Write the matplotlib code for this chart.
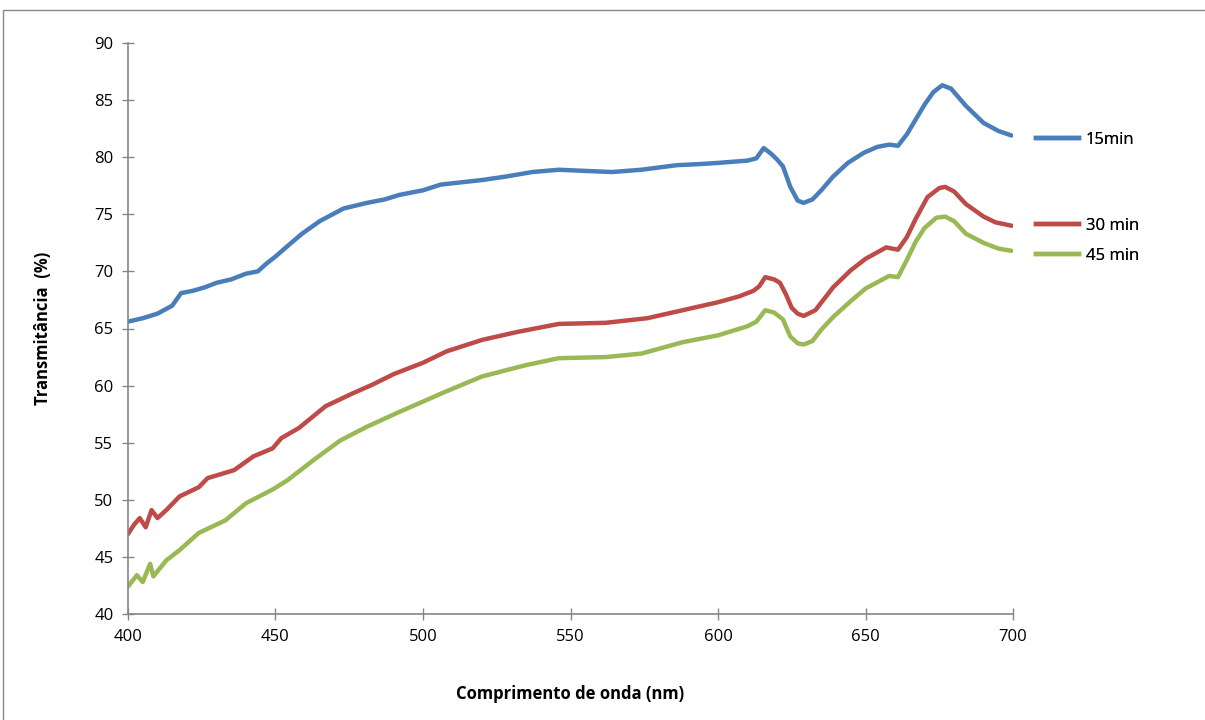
import matplotlib.pyplot as plt
from matplotlib.lines import Line2D
from matplotlib.patches import Rectangle

# wavelength (nm) / transmittance (%)
wl_15 = [400, 405, 410, 415, 418, 422, 426, 430, 435, 440, 444, 447, 450, 454, 459,
         465, 473, 481, 487, 492, 500, 506, 513, 520, 528, 537, 546, 555, 564, 574,
         586, 594, 600, 605, 610, 613, 615.5, 618, 620, 622, 624.5, 627, 629, 632,
         635, 639, 644, 649.5, 654, 658, 661, 664, 667, 670, 673, 676, 679, 684, 690,
         695, 699.5]
t_15 = [65.6, 65.9, 66.3, 67.0, 68.1, 68.3, 68.6, 69.0, 69.3, 69.8, 70.0, 70.7, 71.3,
        72.2, 73.3, 74.4, 75.5, 76.0, 76.3, 76.7, 77.1, 77.6, 77.8, 78.0, 78.3, 78.7,
        78.9, 78.8, 78.7, 78.9, 79.3, 79.4, 79.5, 79.6, 79.7, 79.9, 80.8, 80.3, 79.8,
        79.2, 77.4, 76.2, 76.0, 76.3, 77.1, 78.3, 79.5, 80.4, 80.9, 81.1, 81.0, 82.0,
        83.3, 84.6, 85.7, 86.3, 86.0, 84.5, 83.0, 82.3, 81.9]

wl_30 = [400, 402, 404, 406, 408, 410, 413, 417.5, 424, 427, 436, 442.5, 449, 452, 458,
         467, 476, 483, 490, 500, 508, 520, 532, 546, 562, 576, 588, 600, 607, 612,
         614, 616, 619, 621, 623, 625, 627, 629, 633, 639, 645, 650, 657, 661, 664,
         667, 671, 675, 677, 680, 684, 690, 694, 699.5]
t_30 = [47.0, 47.8, 48.4, 47.6, 49.1, 48.4, 49.1, 50.3, 51.1, 51.9, 52.6, 53.8, 54.5,
        55.4, 56.3, 58.2, 59.3, 60.1, 61.0, 62.0, 63.0, 64.0, 64.7, 65.4, 65.5, 65.9,
        66.6, 67.3, 67.8, 68.3, 68.7, 69.5, 69.3, 69.0, 68.0, 66.8, 66.3, 66.1, 66.6,
        68.6, 70.1, 71.1, 72.1, 71.9, 73.0, 74.6, 76.5, 77.3, 77.4, 77.0, 75.9, 74.8,
        74.3, 74.0]

wl_45 = [400, 403, 405, 407.5, 408.6, 413, 417.5, 424, 433, 440, 449, 454, 463, 472,
         481, 492, 500, 507, 520, 535, 546, 562, 574, 588, 600, 610, 613, 616, 619,
         622, 624.5, 627, 629, 632, 635, 639, 645, 650, 658, 661, 664, 667, 670, 674,
         677, 680, 684, 690, 695, 699.5]
t_45 = [42.4, 43.4, 42.8, 44.4, 43.3, 44.7, 45.6, 47.1, 48.2, 49.7, 50.9, 51.7, 53.5,
        55.2, 56.4, 57.7, 58.6, 59.4, 60.8, 61.8, 62.4, 62.5, 62.8, 63.8, 64.4, 65.2,
        65.6, 66.6, 66.4, 65.8, 64.3, 63.7, 63.6, 63.9, 64.9, 66.0, 67.4, 68.5, 69.6,
        69.5, 71.0, 72.6, 73.8, 74.7, 74.8, 74.4, 73.3, 72.5, 72.0, 71.8]

labels = ["15min", "30 min", "45 min"]
colors = ["#4A7EBB", "#BE4B48", "#98B954"]

plt.rcParams['font.family'] = ['Open Sans', 'DejaVu Sans']

fig = plt.figure(figsize=(12.05, 7.2), dpi=100)
fig.patches.append(Rectangle((0.0025, -0.01), 1.2, 0.9965, transform=fig.transFigure,
                             fill=False, edgecolor="#868686", linewidth=1))
ax = fig.add_axes([0.1062, 0.1472, 0.7345, 0.7931])

series = [(wl_15, t_15), (wl_30, t_30), (wl_45, t_45)]
for (x, y), c in zip(series, colors):
    ax.plot(x, y, color=c, linewidth=3.2, solid_capstyle='round')

ax.set_xlim(400, 700)
ax.set_ylim(40, 90)
ax.set_xticks(range(400, 701, 50))
ax.set_yticks(range(40, 91, 5))
for s in ['top', 'right']:
    ax.spines[s].set_visible(False)
for s in ['left', 'bottom']:
    ax.spines[s].set_color("#868686")
    ax.spines[s].set_linewidth(1.2)
ax.tick_params(direction='inout', length=9, width=1, color="#868686",
               labelsize=12, labelcolor="#000000", pad=6)

ax.set_xlabel("Comprimento de onda (nm)", fontsize=12, fontweight='bold', labelpad=29)
ax.set_ylabel("Transmitância  (%)", fontsize=12, fontweight='bold', labelpad=30)

# legend entries sit at separate heights, as in the reference
legend_y = [0.8056, 0.6861, 0.6444]
for lab, c, ly in zip(labels, colors, legend_y):
    h = Line2D([], [], color=c, linewidth=3.2)
    leg = fig.legend([h], [lab], loc='center left', bbox_to_anchor=(0.8597, ly),
                     frameon=False, fontsize=12, handlelength=2.6, handletextpad=0.4,
                     borderpad=0, borderaxespad=0)
    fig.add_artist(leg)

fig.savefig("out.png", dpi=100)
